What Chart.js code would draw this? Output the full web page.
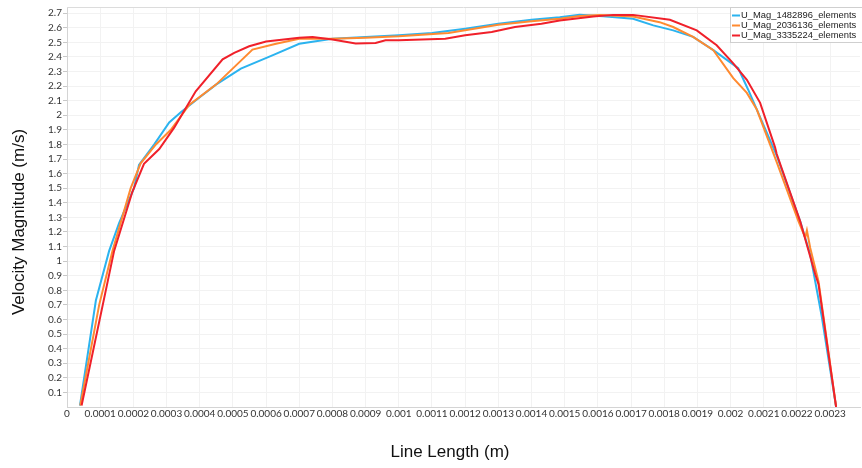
<!DOCTYPE html>
<html>
<head>
<meta charset="utf-8">
<script src="https://cdn.jsdelivr.net/npm/chart.js@4.4.1/dist/chart.umd.min.js"></script>
<style>
  html, body { margin: 0; padding: 0; background: #fff; }
  #wrap { width: 862px; height: 468px; }
</style>
</head>
<body>
<div id="wrap"><canvas id="velChart" width="862" height="468"></canvas></div>
<script>
// velocity magnitude sampled along the line, one series per mesh
const seriesNames = ['U_Mag_1482896_elements', 'U_Mag_2036136_elements', 'U_Mag_3335224_elements'];
const seriesColors = ['#2bb3ef', '#ff8a30', '#f0202a'];

const xMesh1 = [0.000039, 0.000087, 0.000127, 0.000157, 0.000202, 0.000217, 0.000263, 0.000308, 0.000343, 0.000398,
  0.000449, 0.000524, 0.000619, 0.0007, 0.0008, 0.0009, 0.001, 0.0011, 0.0012, 0.0013,
  0.0014, 0.001485, 0.001545, 0.001616, 0.001706, 0.001767, 0.001827, 0.001887, 0.001948, 0.002023,
  0.002053, 0.002139, 0.00221, 0.00224, 0.002275, 0.002318];
const uMesh1 = [0.01, 0.73, 1.07, 1.26, 1.50, 1.66, 1.80, 1.95, 2.02, 2.12,
  2.21, 2.32, 2.41, 2.49, 2.525, 2.537, 2.548, 2.564, 2.593, 2.627,
  2.655, 2.672, 2.688, 2.679, 2.661, 2.616, 2.582, 2.537, 2.446, 2.322,
  2.175, 1.723, 1.271, 1.045, 0.616, 0.0];

const xMesh2 = [0.00004, 0.000097, 0.000137, 0.000192, 0.000222, 0.000268, 0.000313, 0.000368, 0.000449, 0.000559,
  0.00063, 0.0007, 0.0008, 0.0009, 0.001, 0.00115, 0.0013, 0.0014, 0.001485, 0.001545,
  0.001606, 0.001706, 0.001786, 0.001827, 0.001887, 0.001948, 0.002008, 0.002049, 0.002079, 0.002139,
  0.002205, 0.002225, 0.00223, 0.00224, 0.002265, 0.002318];
const uMesh2 = [0.01, 0.70, 1.07, 1.50, 1.67, 1.80, 1.90, 2.07, 2.21, 2.45,
  2.49, 2.525, 2.525, 2.532, 2.541, 2.564, 2.62, 2.645, 2.661, 2.68,
  2.688, 2.677, 2.638, 2.605, 2.537, 2.446, 2.254, 2.153, 2.039, 1.678,
  1.271, 1.16, 1.21, 1.09, 0.86, 0.0];

const xMesh3 = [0.000044, 0.000142, 0.000197, 0.000232, 0.000278, 0.000323, 0.000388, 0.000469, 0.000504, 0.000549,
  0.0006, 0.0007, 0.00074, 0.0008, 0.00087, 0.00093, 0.00096, 0.001, 0.00114, 0.0012,
  0.00128, 0.00135, 0.00143, 0.001485, 0.001586, 0.001646, 0.001706, 0.001817, 0.001898, 0.001958,
  0.002008, 0.002049, 0.002089, 0.002134, 0.002139, 0.00221, 0.002255, 0.002265, 0.002318];
const uMesh3 = [0.01, 1.07, 1.475, 1.667, 1.768, 1.915, 2.164, 2.383, 2.428, 2.473,
  2.505, 2.532, 2.537, 2.519, 2.492, 2.496, 2.514, 2.514, 2.525, 2.548,
  2.571, 2.605, 2.627, 2.649, 2.677, 2.688, 2.688, 2.654, 2.582, 2.48,
  2.356, 2.243, 2.085, 1.78, 1.734, 1.271, 0.91, 0.842, 0.0];

const xTicks = [0, 0.0001, 0.0002, 0.0003, 0.0004, 0.0005, 0.0006, 0.0007, 0.0008, 0.0009, 0.001, 0.0011,
  0.0012, 0.0013, 0.0014, 0.0015, 0.0016, 0.0017, 0.0018, 0.0019, 0.002, 0.0021, 0.0022, 0.0023];
const yTicks = [0.1, 0.2, 0.3, 0.4, 0.5, 0.6, 0.7, 0.8, 0.9, 1, 1.1, 1.2, 1.3, 1.4,
  1.5, 1.6, 1.7, 1.8, 1.9, 2, 2.1, 2.2, 2.3, 2.4, 2.5, 2.6, 2.7];

const xTitle = 'Line Length (m)';
const yTitle = 'Velocity Magnitude (m/s)';

function toPoints(xs, ys) {
  return xs.map((x, i) => ({ x: x, y: ys[i] }));
}

const series = [[xMesh1, uMesh1], [xMesh2, uMesh2], [xMesh3, uMesh3]];
const datasets = series.map((s, i) => ({
  label: seriesNames[i],
  data: toPoints(s[0], s[1]),
  borderColor: seriesColors[i],
  borderWidth: 2,
  pointRadius: 0,
  tension: 0,
  order: 3 - i   // finest mesh drawn on top
}));

const tickFont = { family: 'Lato, "Liberation Sans", sans-serif', size: 10 };

// top frame line, axis titles and the boxed legend
const decorations = {
  id: 'decorations',
  beforeDatasetsDraw(chart) {
    const { ctx, chartArea } = chart;
    ctx.save();
    ctx.strokeStyle = '#dcdcdc';
    ctx.lineWidth = 1;
    ctx.beginPath();
    ctx.moveTo(chartArea.left, chartArea.top + 0.5);
    ctx.lineTo(chartArea.right, chartArea.top + 0.5);
    ctx.stroke();
    ctx.restore();
  },
  afterDraw(chart) {
    const { ctx } = chart;
    ctx.save();
    ctx.fillStyle = '#111';
    ctx.font = '17px "Liberation Sans", Arial, sans-serif';
    ctx.textAlign = 'center';
    ctx.textBaseline = 'middle';
    ctx.fillText(xTitle, 450, 452);
    ctx.translate(19, 222);
    ctx.rotate(-Math.PI / 2);
    ctx.fillText(yTitle, 0, 0);
    ctx.restore();

    // legend
    ctx.save();
    ctx.fillStyle = '#fff';
    ctx.strokeStyle = '#cfcfcf';
    ctx.lineWidth = 1;
    ctx.fillRect(730, 7, 132, 36);
    ctx.strokeRect(730.5, 7.5, 140, 35);
    ctx.font = '9.4px "Liberation Sans", Arial, sans-serif';
    ctx.textBaseline = 'middle';
    ctx.textAlign = 'left';
    chart.data.datasets.forEach((ds, i) => {
      const y = 15.5 + i * 10;
      ctx.strokeStyle = ds.borderColor;
      ctx.lineWidth = 2;
      ctx.beginPath();
      ctx.moveTo(732, y);
      ctx.lineTo(740, y);
      ctx.stroke();
      ctx.fillStyle = '#222';
      ctx.fillText(ds.label, 741, y);
    });
    ctx.restore();
  }
};

new Chart(document.getElementById('velChart'), {
  type: 'line',
  data: { datasets: datasets },
  options: {
    responsive: false,
    animation: false,
    devicePixelRatio: 1,
    layout: { padding: { top: 3, right: 2, left: 0, bottom: 0 } },
    plugins: {
      legend: { display: false },
      tooltip: { enabled: false }
    },
    scales: {
      x: {
        type: 'linear',
        min: 0,
        max: 0.00239,
        afterBuildTicks: s => { s.ticks = xTicks.map(v => ({ value: v })); },
        afterFit: s => { s.height = 61; },
        ticks: {
          autoSkip: false,
          maxRotation: 0,
          padding: 1,
          color: '#333',
          font: tickFont,
          callback: v => String(Number(v.toFixed(4)))
        },
        grid: { color: '#f2f2f2', tickLength: 0 },
        border: { color: '#d4d4d4' }
      },
      y: {
        type: 'linear',
        min: 0,
        max: 2.742,
        afterBuildTicks: s => { s.ticks = yTicks.map(v => ({ value: v })); },
        afterFit: s => { s.width = 67; },
        ticks: {
          padding: 1,
          color: '#333',
          font: tickFont,
          callback: v => String(Number(v.toFixed(1)))
        },
        grid: { color: '#f2f2f2', tickLength: 4, tickColor: '#c8c8c8' },
        border: { color: '#d4d4d4' }
      }
    }
  },
  plugins: [decorations]
});
</script>
</body>
</html>
